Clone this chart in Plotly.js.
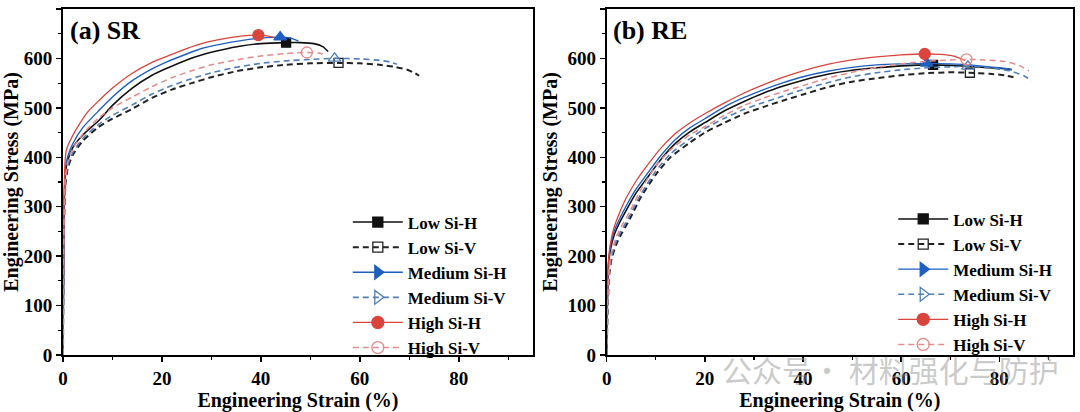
<!DOCTYPE html>
<html>
<head>
<meta charset="utf-8">
<script src="https://cdn.plot.ly/plotly-3.0.1.min.js"></script>
<style>html,body{margin:0;padding:0;background:#fff;}#chart{width:1080px;height:412px;}</style>
</head>
<body>
<div id="chart"></div>
<script>
// ---------- Data ----------
const seriesNames = ['Low Si-H', 'Low Si-V', 'Medium Si-H', 'Medium Si-V', 'High Si-H', 'High Si-V'];

// (a) SR
const srLowH_x = [0, 0.2, 0.5, 1, 2, 4, 7.4, 10, 14, 18, 21, 25, 28, 32, 36, 40, 45.1, 48, 50.7, 52.5, 53.6];
const srLowH_y = [0, 280, 370, 395, 420, 445, 476, 505, 540, 566, 580, 597, 607, 617, 625, 630, 632, 632, 630, 624, 614];
const srLowV_x = [0, 0.2, 0.5, 1, 2, 3.9, 7, 10, 14, 18, 22, 26, 30, 35, 40, 45, 50, 55.7, 60, 64, 67, 69.6, 71, 72];
const srLowV_y = [0, 260, 345, 380, 405, 432, 460, 478, 498, 520, 537, 550, 562, 574, 582, 587, 590, 591, 590, 587, 583, 577, 571, 565];
const srMedH_x = [0, 0.2, 0.5, 1, 2, 4, 7.4, 10, 14, 18, 21, 25, 28, 32, 36, 40, 43.9, 46, 47.6];
const srMedH_y = [0, 290, 380, 403, 428, 460, 496, 522, 555, 579, 593, 609, 620, 629, 636, 641, 643, 641, 635];
const srMedV_x = [0, 0.2, 0.5, 1, 2, 4, 7, 10, 14, 18, 22, 26, 30, 35, 40, 45, 50, 54.9, 60, 64, 66, 67.5];
const srMedV_y = [0, 265, 350, 385, 410, 438, 465, 485, 506, 528, 545, 559, 571, 582, 590, 595, 598, 600, 599, 596, 593, 588];
const srHighH_x = [0, 0.2, 0.4, 0.7, 1.5, 3, 5, 7.4, 10, 14, 18, 21, 25, 28, 32, 36, 39.5, 41, 42.5];
const srHighH_y = [0, 300, 390, 415, 435, 462, 492, 516, 540, 570, 592, 604, 620, 630, 639, 645, 647, 646, 643];
const srHighV_x = [0, 0.2, 0.5, 1, 2, 4, 7, 10, 14, 18, 22, 26, 30, 35, 40, 45, 49.3, 51.5, 53.4];
const srHighV_y = [0, 275, 360, 392, 418, 447, 478, 500, 522, 543, 561, 575, 587, 597, 605, 610, 612, 611, 607];
// SR marker points
const srMark_x = [45.1, 55.7, 43.9, 54.9, 39.5, 49.3];
const srMark_y = [632, 591, 643, 600, 647, 612];

// (b) RE
const reLowH_x = [0, 0.15, 0.4, 0.8, 1.5, 2.5, 4, 6, 8, 11, 14, 17, 20, 24, 28, 32, 36, 40, 45, 50, 55, 60, 66.5, 70, 75, 80, 82.5];
const reLowH_y = [0, 110, 185, 215, 242, 265, 293, 328, 355, 395, 428, 452, 470, 494, 513, 530, 544, 556, 568, 576, 581, 585, 587, 586, 583, 580, 577];
const reLowV_x = [0, 0.2, 0.5, 1, 2, 3, 4.7, 7, 10, 13, 17, 20, 24, 28, 32, 36, 40, 45, 50, 55, 60, 65, 70, 74, 78, 81, 83.7];
const reLowV_y = [0, 90, 160, 195, 225, 245, 275, 320, 365, 400, 430, 450, 470, 488, 502, 515, 527, 542, 553, 560, 566, 570, 572, 571, 569, 566, 560];
const reMedH_x = [0, 0.15, 0.4, 0.8, 1.5, 2.5, 4, 6, 8, 11, 14, 17, 20, 24, 28, 32, 36, 40, 45, 50, 55, 60, 65.2, 70, 75, 80, 82.5];
const reMedH_y = [0, 115, 190, 222, 250, 273, 302, 336, 363, 403, 436, 460, 478, 502, 521, 537, 551, 563, 574, 582, 587, 589, 590, 589, 586, 581, 578];
const reMedV_x = [0, 0.2, 0.5, 1, 2, 3, 4.7, 7, 10, 13, 17, 20, 24, 28, 32, 36, 40, 45, 50, 55, 60, 65, 70, 73.6, 78, 82, 85, 86.6];
const reMedV_y = [0, 95, 165, 200, 232, 252, 282, 326, 372, 407, 438, 458, 479, 497, 511, 524, 537, 551, 563, 571, 577, 581, 583, 584, 581, 575, 565, 555];
const reHighH_x = [0, 0.15, 0.4, 0.8, 1.5, 2.5, 4, 6, 8, 11, 14, 17, 20, 24, 28, 32, 36, 40, 45, 50, 55, 60, 64.8, 68, 70.5, 72, 73];
const reHighH_y = [0, 120, 195, 228, 258, 285, 318, 352, 380, 418, 448, 470, 488, 510, 530, 547, 562, 575, 588, 597, 603, 607, 609, 608, 605, 600, 596];
const reHighV_x = [0, 0.2, 0.5, 1, 2, 3, 4.7, 7, 10, 13, 17, 20, 24, 28, 32, 36, 40, 45, 50, 55, 60, 65, 70, 73.3, 77, 81, 84, 86];
const reHighV_y = [0, 100, 175, 208, 240, 260, 290, 335, 382, 415, 446, 462, 485, 505, 520, 533, 545, 560, 572, 582, 589, 594, 597, 598, 597, 594, 586, 575];
// RE marker points
const reMark_x = [66.5, 74.0, 65.2, 73.6, 64.8, 73.3];
const reMark_y = [587, 571, 590, 584, 609, 598];

// ---------- Styles ----------
const colors = ['#111111', '#222222', '#1f5fc0', '#4f7fba', '#d9443d', '#e68a8a'];
const dashes = ['solid', '6px,4px', 'solid', '6px,4px', 'solid', '6px,4px'];
const widths = [1.6, 2.0, 1.4, 1.6, 1.3, 1.5];
const plotSymbols = ['square', 'square-open', 'triangle-up', 'triangle-up-open', 'circle', 'circle-open'];
const legendSymbols = ['square', 'square-open', 'triangle-right', 'triangle-right-open', 'circle', 'circle-open'];
const markerSizes = [9, 9, 11, 11, 11, 11];

const srX = [srLowH_x, srLowV_x, srMedH_x, srMedV_x, srHighH_x, srHighV_x];
const srY = [srLowH_y, srLowV_y, srMedH_y, srMedV_y, srHighH_y, srHighV_y];
const reX = [reLowH_x, reLowV_x, reMedH_x, reMedV_x, reHighH_x, reHighV_x];
const reY = [reLowH_y, reLowV_y, reMedH_y, reMedV_y, reHighH_y, reHighV_y];

const traces = [];
function addPanel(X, Y, MX, MY, xa, ya, legendId) {
  for (let i = 0; i < seriesNames.length; i++) {
    traces.push({
      type: 'scatter', mode: 'lines', x: X[i], y: Y[i], xaxis: xa, yaxis: ya,
      line: {color: colors[i], width: widths[i], dash: dashes[i], shape: 'spline', smoothing: 0.6},
      showlegend: false, hoverinfo: 'skip'
    });
    traces.push({
      type: 'scatter', mode: 'markers', x: [MX[i]], y: [MY[i]], xaxis: xa, yaxis: ya,
      marker: {symbol: plotSymbols[i], size: markerSizes[i], color: colors[i], line: {color: colors[i], width: 1.3}},
      showlegend: false, hoverinfo: 'skip'
    });
  }
  for (let i = 0; i < seriesNames.length; i++) {
    traces.push({
      type: 'scatter', mode: 'lines+markers', x: [null], y: [null], xaxis: xa, yaxis: ya,
      name: seriesNames[i], legend: legendId,
      line: {color: colors[i], width: widths[i], dash: dashes[i]},
      marker: {symbol: legendSymbols[i], size: markerSizes[i] + 1, color: colors[i], line: {color: colors[i], width: 1.3}}
    });
  }
}
addPanel(srX, srY, srMark_x, srMark_y, 'x', 'y', 'legend');
addPanel(reX, reY, reMark_x, reMark_y, 'x2', 'y2', 'legend2');

const fam = 'Liberation Serif, Times New Roman, serif';
const tickFont = {family: fam, size: 19, color: '#000', weight: 'bold'};
const titleFont = {family: fam, size: 20, color: '#000', weight: 'bold'};
function xAxis(domain, anchor) {
  return {
    domain: domain, anchor: anchor, range: [0, 95], dtick: 20, tick0: 0,
    showline: true, mirror: true, linewidth: 2, linecolor: '#000',
    ticks: 'outside', ticklen: 5, tickwidth: 1.5, tickcolor: '#000',
    minor: {dtick: 10, ticks: 'outside', ticklen: 3, tickwidth: 1.2, tickcolor: '#000'},
    showgrid: false, zeroline: false, tickfont: tickFont,
    title: {text: 'Engineering Strain (%)', font: titleFont, standoff: 4}
  };
}
function yAxis(anchor) {
  return {
    anchor: anchor, range: [0, 700], dtick: 100, tick0: 0,
    showline: true, mirror: true, linewidth: 2, linecolor: '#000',
    ticks: 'outside', ticklen: 5, tickwidth: 1.5, tickcolor: '#000',
    minor: {dtick: 50, ticks: 'outside', ticklen: 3, tickwidth: 1.2, tickcolor: '#000'},
    showgrid: false, zeroline: false, tickfont: tickFont,
    title: {text: 'Engineering Stress (MPa)', font: titleFont, standoff: 4}
  };
}
const legendBase = {
  xanchor: 'left', yanchor: 'top', bgcolor: 'rgba(0,0,0,0)', borderwidth: 0,
  font: {family: fam, size: 17, color: '#000', weight: 'bold'}, itemwidth: 50, tracegroupgap: 0
};

const layout = {
  width: 1080, height: 412,
  margin: {l: 63, r: 7, t: 9, b: 57},
  paper_bgcolor: '#fff', plot_bgcolor: '#fff',
  showlegend: true,
  xaxis: xAxis([0, 0.4653], 'y'),
  yaxis: yAxis('x'),
  xaxis2: xAxis([0.5383, 1], 'y2'),
  yaxis2: yAxis('x2'),
  legend: Object.assign({}, legendBase, {x: 0.282, y: 0.435}),
  legend2: Object.assign({}, legendBase, {x: 0.822, y: 0.444}),
  annotations: [
    {text: '(a) SR', xref: 'x domain', yref: 'y domain', x: 0.01, y: 0.985, xanchor: 'left', yanchor: 'top',
     showarrow: false, font: {family: fam, size: 26, color: '#000', weight: 'bold'}},
    {text: '(b) RE', xref: 'x2 domain', yref: 'y2 domain', x: 0.01, y: 0.985, xanchor: 'left', yanchor: 'top',
     showarrow: false, font: {family: fam, size: 26, color: '#000', weight: 'bold'}},
    {text: '公众号· 材料强化与防护', xref: 'paper', yref: 'paper', x: 0.65, y: -0.04, xanchor: 'left', yanchor: 'middle',
     showarrow: false, font: {family: 'Noto Sans CJK SC', size: 30, color: 'rgba(150,150,150,0.5)'}}
  ]
};

Plotly.newPlot('chart', traces, layout, {displayModeBar: false, staticPlot: true});
</script>
</body>
</html>
